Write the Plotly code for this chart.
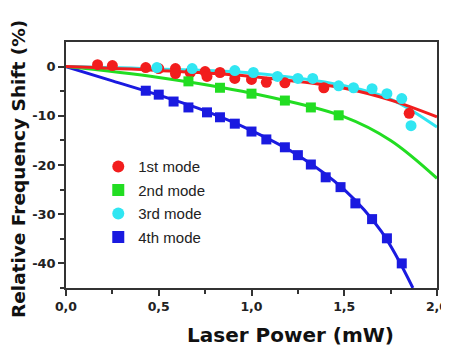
import plotly.graph_objects as go

# ---- data ----
m1_x = [0.17, 0.25, 0.43, 0.50, 0.59, 0.59, 0.67, 0.75, 0.76, 0.83, 0.91, 1.00, 1.08, 1.18, 1.39, 1.85]
m1_y = [0.4, 0.2, -0.2, -0.4, -0.4, -1.4, -1.2, -1.0, -2.0, -1.2, -2.4, -2.6, -3.2, -3.3, -4.3, -9.5]

m2_x = [0.66, 0.83, 1.00, 1.18, 1.32, 1.47]
m2_y = [-3.0, -4.3, -5.5, -6.9, -8.3, -9.9]

m3_x = [0.49, 0.68, 0.91, 1.01, 1.14, 1.25, 1.33, 1.47, 1.55, 1.65, 1.73, 1.81, 1.86]
m3_y = [-0.2, -0.4, -0.8, -1.2, -2.0, -2.4, -2.4, -3.9, -4.3, -4.5, -5.5, -6.5, -12.0]

m4_x = [0.43, 0.50, 0.58, 0.66, 0.76, 0.83, 0.91, 1.00, 1.08, 1.18, 1.25, 1.32, 1.40, 1.48,
        1.56, 1.65, 1.73, 1.81]
m4_y = [-4.9, -5.7, -7.1, -8.3, -9.3, -10.3, -11.6, -13.2, -14.8, -16.4, -18.0, -19.9, -22.5,
        -24.5, -27.8, -31.0, -34.9, -40.0]

# fitted curves
f1_x = [0, 0.5, 1.0, 1.5, 1.75, 2.0]
f1_y = [0, -0.8, -2.0, -4.4, -6.8, -10.2]
f2_x = [0, 0.5, 1.0, 1.5, 1.75, 2.0]
f2_y = [0, -2.2, -5.4, -10.2, -15.0, -22.7]
f3_x = [0, 0.5, 1.0, 1.5, 1.75, 2.0]
f3_y = [0, -0.5, -1.3, -3.9, -6.6, -12.3]
f4_x = [0, 0.25, 0.5, 0.75, 1.0, 1.25, 1.5, 1.7, 1.87]
f4_y = [0, -2.9, -5.8, -9.0, -13.0, -18.0, -25.0, -33.5, -45.0]

names = ["1st mode", "2nd mode", "3rd mode", "4th mode"]
colors = ["#f21d1d", "#22dd22", "#30e6f2", "#1a1ae0"]

x_ticks = [0, 0.5, 1.0, 1.5, 2.0]
x_labels = ["0,0", "0,5", "1,0", "1,5", "2,0"]
y_ticks = [0, -10, -20, -30, -40]
y_labels = ["0", "-10", "-20", "-30", "-40"]

fig = go.Figure()

for fx, fy, ci in [(f4_x, f4_y, 3), (f2_x, f2_y, 1), (f3_x, f3_y, 2), (f1_x, f1_y, 0)]:
    fig.add_trace(go.Scatter(x=fx, y=fy, mode="lines", line=dict(color=colors[ci], width=3, shape="spline"),
                             showlegend=False, hoverinfo="skip"))

data = [(m1_x, m1_y, "circle"), (m2_x, m2_y, "square"), (m3_x, m3_y, "circle"), (m4_x, m4_y, "square")]
for i, (mx, my, sym) in enumerate(data):
    fig.add_trace(go.Scatter(x=mx, y=my, mode="markers", name=names[i], legendgroup=names[i],
                             marker=dict(color=colors[i], symbol=sym, size=11 if sym == "circle" else 10,
                                         line=dict(width=0))))

common = dict(ticks="outside", ticklen=6, tickwidth=1.5, tickcolor="#333", showline=True,
              linecolor="#333", linewidth=1.5, mirror=True, showgrid=False, zeroline=False,
              automargin=False, ticklabeloverflow="allow")
fig.update_xaxes(range=[0, 2.0], tickvals=x_ticks, ticktext=x_labels,
                 tickfont=dict(family="DejaVu Sans", size=12.5, color="#222", weight="bold"),
                 minor=dict(tickvals=[0.25, 0.75, 1.25, 1.75], ticks="outside", ticklen=4, tickcolor="#333"),
                 **common)
fig.update_yaxes(range=[-45, 5], tickvals=y_ticks, ticktext=y_labels,
                 tickfont=dict(family="DejaVu Sans", size=13, color="#222", weight="bold"),
                 minor=dict(tickvals=[-5, -15, -25, -35, -45], ticks="outside", ticklen=4, tickcolor="#333"),
                 **common)

fig.add_annotation(text="Relative Frequency Shift (%)", xref="paper", yref="paper",
                   x=(18 - 66) / 371, y=(288 - 169) / 246, textangle=-90, showarrow=False,
                   xanchor="center", yanchor="middle",
                   font=dict(family="DejaVu Sans", size=18.5, color="#111", weight="bold"))
fig.add_annotation(text="Laser Power (mW)", xref="paper", yref="paper",
                   x=(290 - 66) / 371, y=-(335 - 288) / 246, showarrow=False, xanchor="center",
                   yanchor="middle",
                   font=dict(family="DejaVu Sans", size=20, color="#111", weight="bold"))

# the page body adds an 8px offset, so the figure is laid out 8px up/left
fig.update_layout(
    width=441, height=342,
    margin=dict(l=58, r=12, t=34, b=62, autoexpand=False),
    paper_bgcolor="white", plot_bgcolor="white",
    showlegend=True,
    legend=dict(x=0.087, y=0.56, xanchor="left", yanchor="top", bgcolor="rgba(0,0,0,0)",
                font=dict(family="Liberation Sans", size=15, color="#222"), tracegroupgap=1,
                itemsizing="constant"),
)

fig.write_html("out.html")
